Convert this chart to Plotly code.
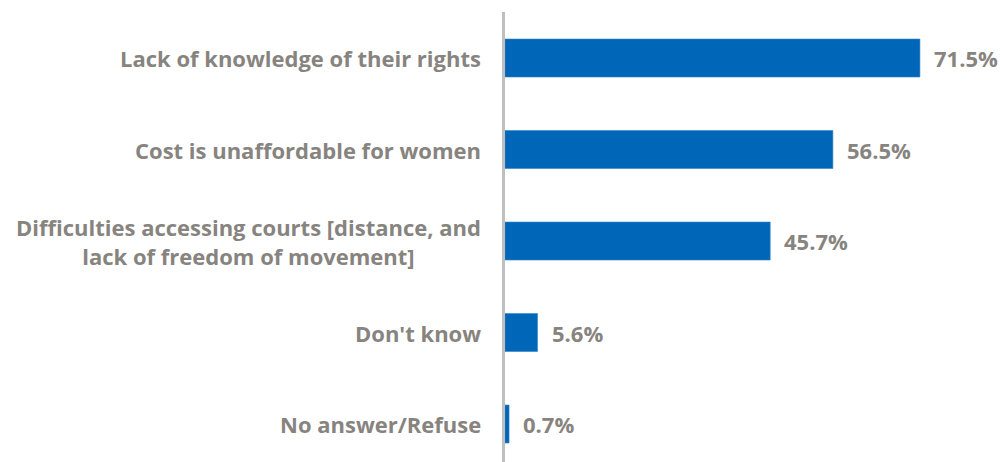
import plotly.graph_objects as go

# Reasons, top to bottom, and share of respondents (%)
categories = [
    "Lack of knowledge of their rights",
    "Cost is unaffordable for women",
    "Difficulties accessing courts [distance, and<br>lack of freedom of movement]",
    "Don't know",
    "No answer/Refuse",
]
values = [71.5, 56.5, 45.7, 5.6, 0.7]
value_labels = ["71.5%", "56.5%", "45.7%", "5.6%", "0.7%"]

BAR = "#0066B8"
GREY = "#87847F"
FONT = "'Open Sans', Lato, sans-serif"

fig = go.Figure(
    go.Bar(
        x=values,
        y=categories,
        orientation="h",
        width=0.415,
        marker=dict(color=BAR, line=dict(color="#2F84C8", width=0.6)),
        hoverinfo="skip",
    )
)

# Category labels: right-aligned block left of the axis, lines centred
for cat in categories:
    fig.add_annotation(
        x=0, xref="paper", y=cat, yref="y",
        text=f"<b>{cat}</b>",
        xanchor="right", yanchor="middle", align="center",
        xshift=-22, showarrow=False,
        font=dict(family=FONT, size=22, color=GREY),
    )

# Value labels just past the bar ends
for cat, v, lab in zip(categories, values, value_labels):
    fig.add_annotation(
        x=v, xref="x", y=cat, yref="y",
        text=f"<b>{lab}</b>",
        xanchor="left", yanchor="middle",
        xshift=12, showarrow=False,
        font=dict(family=FONT, size=22, color=GREY),
    )

fig.update_layout(
    width=1000, height=462,
    margin=dict(l=505, r=0, t=12, b=0),
    paper_bgcolor="white", plot_bgcolor="white",
    showlegend=False,
    xaxis=dict(visible=False, range=[0, 85.3]),
    yaxis=dict(
        type="category",
        categoryorder="array", categoryarray=categories,
        range=[4.415, -0.503],
        showticklabels=False, showgrid=False, zeroline=False,
        showline=True, linecolor="#BFBFBF", linewidth=3, ticks="",
    ),
)

fig.write_html("out.html")
